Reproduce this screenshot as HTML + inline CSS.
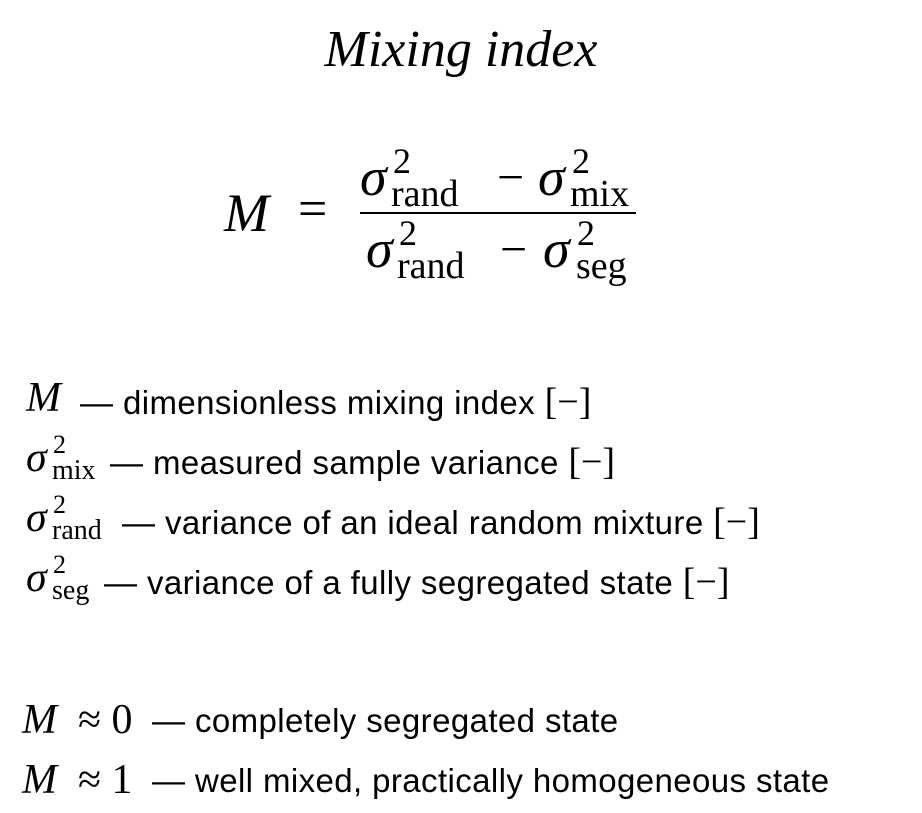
<!DOCTYPE html>
<html><head><meta charset="utf-8"><style>
body{margin:0;width:922px;height:813px;background:#fff;position:relative;overflow:hidden;color:#000}
.a{position:absolute;white-space:nowrap}
.m{font-family:"Liberation Serif",serif}
.i{font-style:italic}
.t{font-family:"Liberation Sans",sans-serif;font-size:33px;letter-spacing:0.4px}
</style></head><body>
<div class="a m i" style="left:0;width:922px;text-align:center;top:20px;font-size:52px">Mixing index</div>

<!-- main formula -->
<div class="a m i" style="left:224px;top:182px;font-size:54px">M</div>
<div class="a m" style="left:298px;top:180px;font-size:52px">=</div>
<div style="position:absolute;left:360px;top:212px;width:276px;height:2px;background:#000"></div>
<!-- numerator -->
<div class="a m i" style="left:360px;top:146px;font-size:54px">σ</div>
<div class="a m" style="left:393px;top:140px;font-size:36px">2</div>
<div class="a m" style="left:391px;top:172px;font-size:38px">rand</div>
<div class="a m" style="left:497px;top:150px;font-size:48px">−</div>
<div class="a m i" style="left:538px;top:146px;font-size:54px">σ</div>
<div class="a m" style="left:572px;top:140px;font-size:36px">2</div>
<div class="a m" style="left:570px;top:172px;font-size:38px">mix</div>
<!-- denominator -->
<div class="a m i" style="left:366px;top:218px;font-size:54px">σ</div>
<div class="a m" style="left:399px;top:212px;font-size:36px">2</div>
<div class="a m" style="left:397px;top:244px;font-size:38px">rand</div>
<div class="a m" style="left:500px;top:222px;font-size:48px">−</div>
<div class="a m i" style="left:543px;top:218px;font-size:54px">σ</div>
<div class="a m" style="left:577px;top:212px;font-size:36px">2</div>
<div class="a m" style="left:576px;top:244px;font-size:38px">seg</div>

<!-- legend -->
<div class="a m i" style="left:26px;top:374px;font-size:42px">M</div>
<div class="a" style="left:80px;top:380px"><span class="t">— dimensionless mixing index </span><span class="m" style="font-size:38px">[−]</span></div>

<div class="a m i" style="left:26px;top:434px;font-size:42px">σ</div>
<div class="a m" style="left:53px;top:430px;font-size:26px">2</div>
<div class="a m" style="left:52px;top:455px;font-size:28px">mix</div>
<div class="a" style="left:110px;top:440px"><span class="t">— measured sample variance </span><span class="m" style="font-size:38px">[−]</span></div>

<div class="a m i" style="left:26px;top:494px;font-size:42px">σ</div>
<div class="a m" style="left:53px;top:490px;font-size:26px">2</div>
<div class="a m" style="left:52px;top:515px;font-size:28px">rand</div>
<div class="a" style="left:122px;top:500px"><span class="t">— variance of an ideal random mixture </span><span class="m" style="font-size:38px">[−]</span></div>

<div class="a m i" style="left:26px;top:554px;font-size:42px">σ</div>
<div class="a m" style="left:53px;top:550px;font-size:26px">2</div>
<div class="a m" style="left:52px;top:575px;font-size:28px">seg</div>
<div class="a" style="left:104px;top:560px"><span class="t">— variance of a fully segregated state </span><span class="m" style="font-size:38px">[−]</span></div>

<div class="a m i" style="left:22px;top:696px;font-size:42px">M</div>
<div class="a m" style="left:78px;top:696px;font-size:42px">≈ 0</div>
<div class="a t" style="left:152px;top:702px">— completely segregated state</div>
<div class="a m i" style="left:22px;top:756px;font-size:42px">M</div>
<div class="a m" style="left:78px;top:756px;font-size:42px">≈ 1</div>
<div class="a t" style="left:152px;top:762px">— well mixed, practically homogeneous state</div>
</body></html>
